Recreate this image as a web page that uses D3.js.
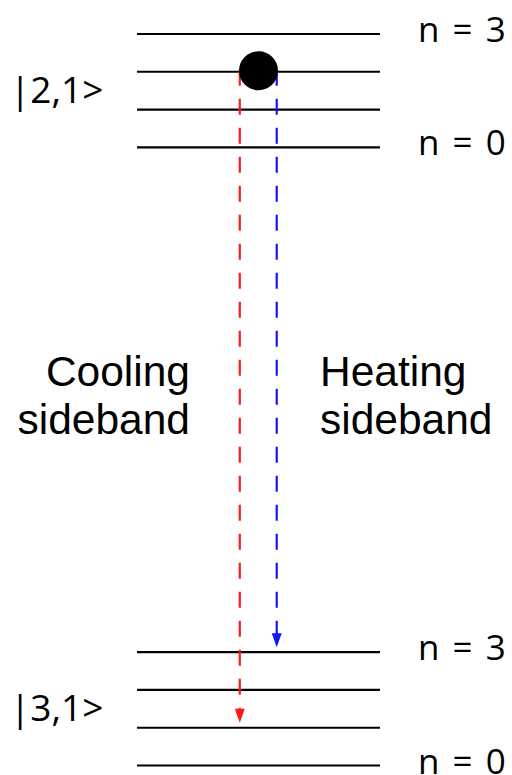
<!DOCTYPE html>
<html><head><meta charset="utf-8">
<script src="https://cdn.jsdelivr.net/npm/d3@7"></script>
<style>html,body{margin:0;padding:0;background:#fff}</style>
</head><body>
<svg id="c" width="512" height="775"></svg>
<script>
// ---- data ----
const states = ["|2,1>", "|3,1>"];
const stateBase = [16.37, 0];           // energy of n=0 for each state (level-spacing units)
const vibLevels = [0, 1, 2, 3];         // n
const levelLabels = ["n = 0", "n = 3"];
const transitions = ["Cooling sideband", "Heating sideband"];
const transFrom = [2, 2];               // n in |2,1>
const transTo = [1, 3];                 // n in |3,1>
const transColor = ["#ff1a1a", "#1414ff"];
const atomLevel = 2;

const svg = d3.select("#c");
const y = d3.scaleLinear().domain([0, 19.37]).range([765.5, 34]);
const x = d3.scaleLinear().domain([0, 1]).range([137, 380]);
const xT = [0.423, 0.575];   // transition positions along level (fraction)
const xAtom = 0.5;

const font1 = "'Open Sans', sans-serif";
const font2 = "'Liberation Sans', Arial, sans-serif";

// levels
states.forEach((s, i) => {
  vibLevels.forEach(n => {
    svg.append("line")
      .attr("x1", x(0)).attr("x2", x(1))
      .attr("y1", y(stateBase[i] + n)).attr("y2", y(stateBase[i] + n))
      .attr("stroke", "#000").attr("stroke-width", 2.2);
  });
  svg.append("text").text(s)
    .attr("x", 10).attr("y", y(stateBase[i] + 1.5) + 12)
    .attr("font-family", font1).attr("font-size", 37).attr("fill", "#000");
  [3, 0].forEach(n => {
    svg.append("text").text(levelLabels[n === 3 ? 1 : 0])
      .attr("x", 418).attr("y", y(stateBase[i] + n) + 8)
      .attr("font-family", font1).attr("font-size", 35)
      .attr("word-spacing", 4).attr("fill", "#000");
  });
});

// transitions
transitions.forEach((t, i) => {
  const xx = x(xT[i]);
  const y1 = y(stateBase[0] + transFrom[i]) - 2;
  const yTip = y(stateBase[1] + transTo[i]) - 5;
  const headH = 14, headW = 5;
  svg.append("line")
    .attr("x1", xx).attr("x2", xx)
    .attr("y1", y1).attr("y2", yTip - headH + 2)
    .attr("stroke", transColor[i]).attr("stroke-width", 2.2)
    .attr("stroke-dasharray", "16,13");
  svg.append("path")
    .attr("d", `M${xx - headW},${yTip - headH}L${xx + headW},${yTip - headH}L${xx},${yTip}Z`)
    .attr("fill", transColor[i]);
  const words = t.split(" ");
  const g = svg.append("text")
    .attr("font-family", font2).attr("font-size", 42.5).attr("fill", "#000")
    .attr("text-anchor", i === 0 ? "end" : "start");
  words.forEach((w, k) => {
    g.append("tspan").text(w)
      .attr("x", i === 0 ? 190 : 320)
      .attr("y", 386 + k * 48);
  });
});

// atom
svg.append("circle")
  .attr("cx", x(xAtom)).attr("cy", y(stateBase[0] + atomLevel) - 1)
  .attr("r", 19.5).attr("fill", "#000");
</script>
</body></html>
